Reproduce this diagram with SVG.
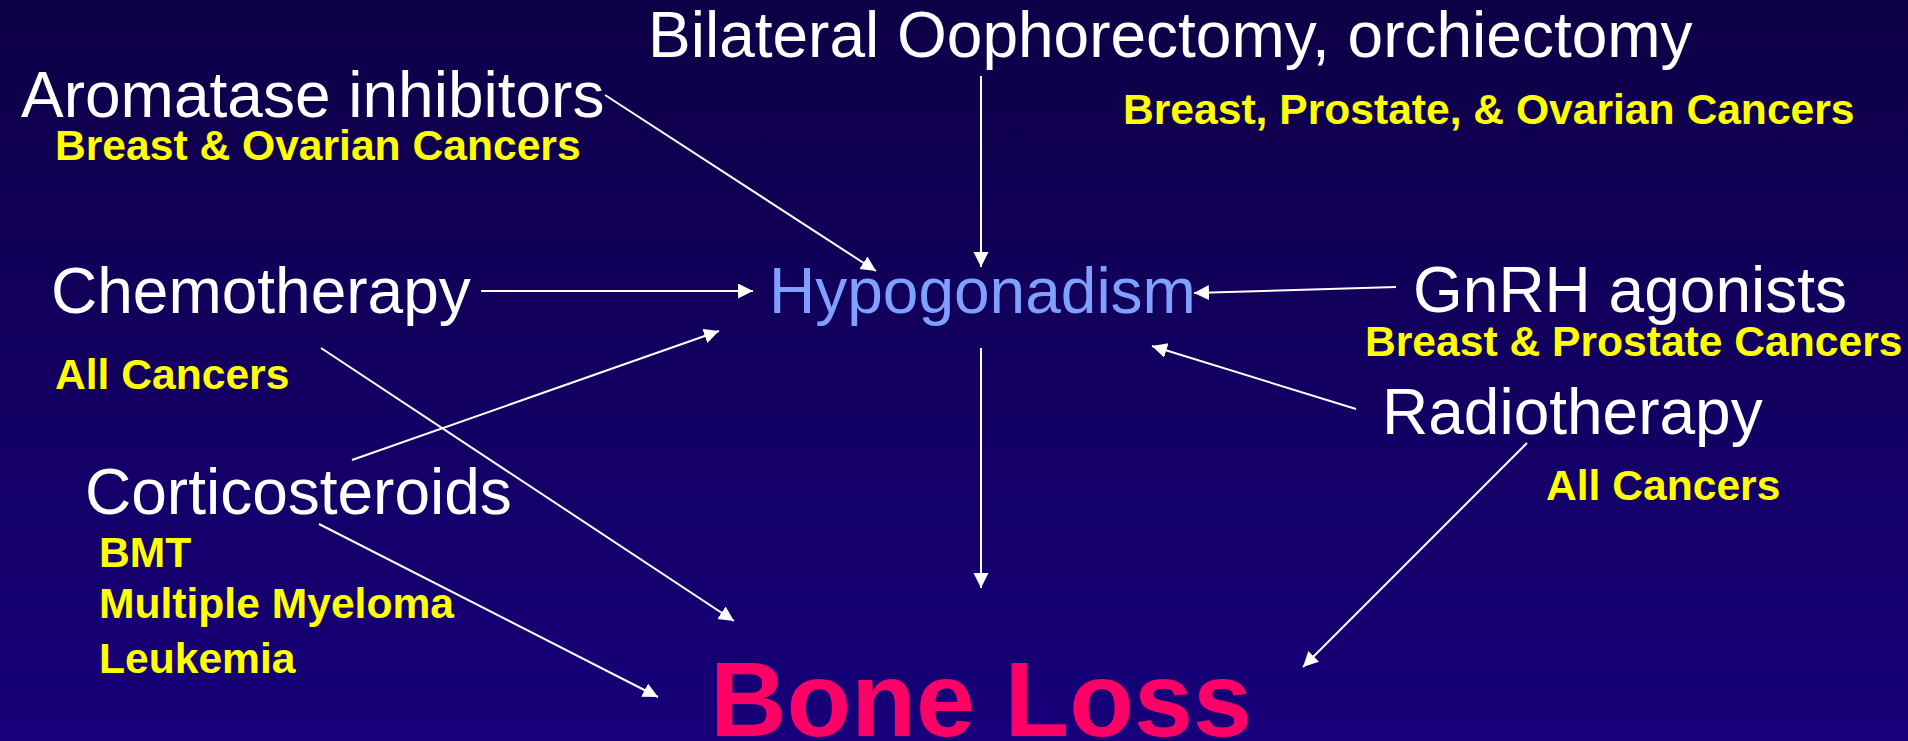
<svg xmlns="http://www.w3.org/2000/svg" width="1908" height="741" viewBox="0 0 1908 741">
<defs>
<linearGradient id="bg" x1="0" y1="0" x2="0" y2="1">
<stop offset="0" stop-color="#0e0046"/>
<stop offset="1" stop-color="#17007a"/>
</linearGradient>
<marker id="ah" markerUnits="userSpaceOnUse" markerWidth="16" markerHeight="16" refX="15" refY="7.5" orient="auto">
<path d="M0,0 L15,7.5 L0,15 z" fill="#ffffff"/>
</marker>
<style>
.t{font-family:"Liberation Sans",Arial,sans-serif;font-size:64px;fill:#ffffff}
.s{font-family:"Liberation Sans",Arial,sans-serif;font-size:42.6px;font-weight:bold;fill:#ffff00}
.hy{fill:#809fff}
.bl{font-family:"Liberation Sans",Arial,sans-serif;font-size:106px;font-weight:bold;fill:#ff0066}
.c line{stroke:#ffffff;stroke-width:2;marker-end:url(#ah)}
</style>
</defs>
<rect width="1908" height="741" fill="url(#bg)"/>
<g class="c" id="connectors">
<line x1="605" y1="95" x2="876" y2="271"/>
<line x1="981" y1="76" x2="981" y2="267"/>
<line x1="481" y1="291" x2="753" y2="291"/>
<line x1="1396" y1="287" x2="1194" y2="293"/>
<line x1="1356" y1="409" x2="1152" y2="346"/>
<line x1="981" y1="348" x2="981" y2="588"/>
<line x1="321" y1="348" x2="734" y2="621"/>
<line x1="352" y1="460" x2="719" y2="331"/>
<line x1="319" y1="524" x2="658" y2="697"/>
<line x1="1527" y1="443" x2="1303" y2="667"/>
</g>
<g id="bilateral">
<text class="t" x="648" y="57">Bilateral Oophorectomy, orchiectomy</text>
<text class="s" x="1123" y="124">Breast, Prostate, &amp; Ovarian Cancers</text>
</g>
<g id="aromatase">
<text class="t" x="21" y="117">Aromatase inhibitors</text>
<text class="s" x="55" y="160">Breast &amp; Ovarian Cancers</text>
</g>
<g id="chemotherapy">
<text class="t" x="51" y="313">Chemotherapy</text>
<text class="s" x="55" y="389">All Cancers</text>
</g>
<g id="hypogonadism">
<text class="t hy" x="769" y="313">Hypogonadism</text>
</g>
<g id="gnrh">
<text class="t" x="1413" y="312">GnRH agonists</text>
<text class="s" x="1365" y="356">Breast &amp; Prostate Cancers</text>
</g>
<g id="radiotherapy">
<text class="t" x="1382" y="434">Radiotherapy</text>
<text class="s" x="1546" y="500">All Cancers</text>
</g>
<g id="corticosteroids">
<text class="t" x="85" y="514">Corticosteroids</text>
<text class="s" x="99" y="567">BMT</text>
<text class="s" x="99" y="618">Multiple Myeloma</text>
<text class="s" x="99" y="673">Leukemia</text>
</g>
<g id="boneloss">
<text class="bl" x="710" y="736">Bone Loss</text>
</g>
</svg>
